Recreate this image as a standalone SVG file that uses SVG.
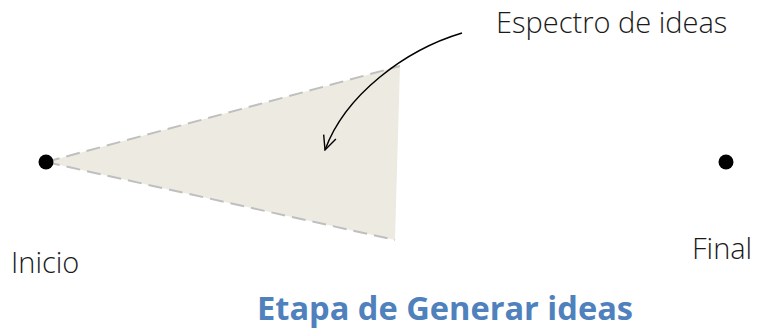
<svg xmlns="http://www.w3.org/2000/svg" width="757" height="329" viewBox="0 0 757 329">
<style>
.lbl{font-family:"Open Sans","Liberation Sans",sans-serif;font-weight:300;font-size:29px;fill:#1a1a1a}
.title{font-family:"Open Sans","Liberation Sans",sans-serif;font-weight:700;font-size:32.6px;fill:#4F81BD}
.dot{fill:#000}
</style>
<defs>
<marker id="arr" viewBox="0 0 16 16" refX="15" refY="8" markerWidth="16" markerHeight="16" markerUnits="userSpaceOnUse" orient="auto">
<path d="M1,1.5 L15,8 L1,14.5" fill="none" stroke="#000" stroke-width="1.4"/>
</marker>
</defs>
<g id="spectrum">
<polygon points="46,162 400,66 395,240" fill="#EDEBE1"/>
<path d="M46,162 L400,66 M46,162 L395,240" fill="none" stroke="#BFBFBF" stroke-width="2" stroke-dasharray="14,7"/>
</g>
<g id="inicio">
<circle class="dot" cx="46" cy="162" r="7.5"/>
<text class="lbl" x="11" y="273">Inicio</text>
</g>
<g id="final">
<circle class="dot" cx="726" cy="162" r="7.5"/>
<text class="lbl" x="692" y="259">Final</text>
</g>
<g id="label">
<text class="lbl" x="496" y="33">Espectro de ideas</text>
</g>
<g id="connectors">
<path d="M462,33 C405,50 345,95 325,150" fill="none" stroke="#000" stroke-width="1.5" marker-end="url(#arr)"/>
</g>
<g id="caption">
<text class="title" x="257" y="320">Etapa de Generar ideas</text>
</g>
</svg>
